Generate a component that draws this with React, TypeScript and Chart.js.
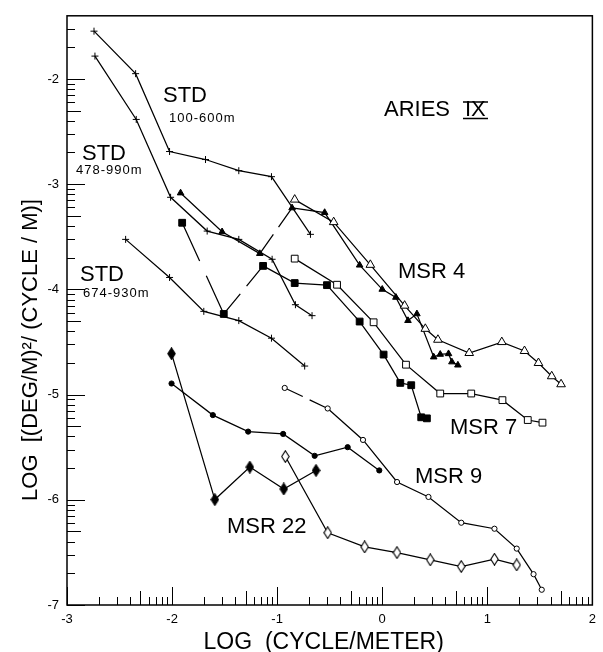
import React, { useEffect, useRef } from 'react';
import { Chart, registerables } from 'chart.js';

Chart.register(...registerables);

// ---- data (log10 wavenumber, log10 spectral level) ----
const std100X = [-2.743, -2.347, -2.024, -1.682, -1.365, -1.054, -0.683];
const std100Y = [-1.546, -1.95, -2.69, -2.766, -2.872, -2.929, -3.477];

const std478X = [-2.734, -2.341, -2.014, -1.666, -1.365, -1.048, -0.826, -0.668];
const std478Y = [-1.783, -2.385, -3.125, -3.446, -3.525, -3.714, -4.146, -4.25];

const std674X = [-2.442, -2.024, -1.698, -1.365, -1.054, -0.738];
const std674Y = [-3.525, -3.887, -4.209, -4.297, -4.464, -4.729];

const msr4FilledX = [-1.919, -1.524, -1.165, -0.858, -0.548, -0.215, 0.0, 0.13, 0.245, 0.33, 0.49, 0.552, 0.631, 0.663, 0.72];
const msr4FilledY = [-3.084, -3.453, -3.66, -3.226, -3.27, -3.77, -4.0, -4.076, -4.297, -4.233, -4.643, -4.618, -4.612, -4.69, -4.72];

const msr4OpenX = [-0.833, -0.462, -0.113, 0.213, 0.41, 0.53, 0.828, 1.138, 1.354, 1.487, 1.613, 1.702];
const msr4OpenY = [-3.147, -3.361, -3.767, -4.155, -4.375, -4.479, -4.605, -4.501, -4.586, -4.7, -4.826, -4.902];

const msr7FilledX = [-1.904, -1.508, -1.134, -0.833, -0.526, -0.215, 0.013, 0.172, 0.276, 0.371, 0.425];
const msr7FilledY = [-3.367, -4.234, -3.777, -3.94, -3.96, -4.306, -4.62, -4.889, -4.911, -5.216, -5.226];

const msr7OpenX = [-0.833, -0.43, -0.082, 0.226, 0.552, 0.847, 1.144, 1.385, 1.525];
const msr7OpenY = [-3.708, -3.956, -4.313, -4.716, -4.99, -4.99, -5.053, -5.242, -5.267];

const msr9OpenX = [-0.928, -0.519, -0.183, 0.141, 0.44, 0.752, 1.068, 1.28, 1.44, 1.518];
const msr9OpenY = [-4.937, -5.132, -5.431, -5.831, -5.973, -6.218, -6.275, -6.464, -6.707, -6.855];

const msr9FilledX = [-2.005, -1.612, -1.276, -0.943, -0.643, -0.329, -0.028];
const msr9FilledY = [-4.895, -5.195, -5.352, -5.374, -5.582, -5.5, -5.721];

const msr22FilledX = [-2.005, -1.593, -1.26, -0.937, -0.63];
const msr22FilledY = [-4.611, -5.998, -5.689, -5.897, -5.721];

const msr22OpenX = [-0.922, -0.519, -0.167, 0.14, 0.457, 0.752, 1.068, 1.28];
const msr22OpenY = [-5.589, -6.313, -6.448, -6.502, -6.571, -6.634, -6.565, -6.619];

const xTickValues = [-3, -2, -1, 0, 1, 2];
const yTickValues = [-7, -6, -5, -4, -3, -2];

const xTitle = 'LOG  (CYCLE/METER)';
const yTitle = 'LOG  [(DEG/M)\u00B2/ (CYCLE / M)]';

const FONT = "'Liberation Sans', Arial, sans-serif";

const zip = (xs: number[], ys: number[]) => xs.map((x, i) => ({ x, y: ys[i] }));

function makeDiamond(filled: boolean) {
  const c = document.createElement('canvas');
  c.width = 9;
  c.height = 13;
  const g = c.getContext('2d')!;
  g.beginPath();
  g.moveTo(4.5, 0.7);
  g.lineTo(8.2, 6.5);
  g.lineTo(4.5, 12.3);
  g.lineTo(0.8, 6.5);
  g.closePath();
  g.fillStyle = filled ? '#000' : '#fff';
  g.fill();
  g.strokeStyle = '#000';
  g.lineWidth = 1.1;
  g.stroke();
  return c;
}

const gapDash = (ctx: any) => {
  const d = Math.hypot(ctx.p1.x - ctx.p0.x, ctx.p1.y - ctx.p0.y);
  return [d * 0.42, d * 0.16, d];
};

const decorPlugin = {
  id: 'decor',
  afterDraw(chart: any) {
    const { ctx, chartArea: a, scales } = chart;
    const xs = scales.x;
    const ys = scales.y;
    ctx.save();
    ctx.strokeStyle = '#000';
    ctx.lineWidth = 1.5;
    ctx.strokeRect(a.left, a.top, a.right - a.left, a.bottom - a.top);

    ctx.lineWidth = 1;
    for (let i = -3; i <= 2; i++) {
      for (let k = 1; k <= 9; k++) {
        const v = i + Math.log10(k);
        if (v > 2.0001) continue;
        const len = k === 1 ? 18 : k === 5 ? 14 : 8;
        const px = Math.round(xs.getPixelForValue(v)) + 0.5;
        ctx.beginPath();
        ctx.moveTo(px, a.bottom);
        ctx.lineTo(px, a.bottom - len);
        ctx.stroke();
      }
    }
    for (let i = -7; i <= -2; i++) {
      for (let k = 1; k <= 9; k++) {
        const v = i + Math.log10(k);
        if (v > ys.max) continue;
        const len = k === 1 ? 18 : k === 5 ? 14 : 8;
        const py = Math.round(ys.getPixelForValue(v)) + 0.5;
        ctx.beginPath();
        ctx.moveTo(a.left, py);
        ctx.lineTo(a.left + len, py);
        ctx.stroke();
      }
    }

    ctx.fillStyle = '#000';
    ctx.textBaseline = 'middle';
    // axis titles
    ctx.textAlign = 'center';
    ctx.font = `23px ${FONT}`;
    ctx.fillText(xTitle, (a.left + a.right) / 2 - 6, 643);
    ctx.save();
    ctx.translate(31, 350);
    ctx.rotate(-Math.PI / 2);
    ctx.font = `22px ${FONT}`;
    ctx.fillText(yTitle, 0, 0);
    ctx.restore();

    // annotations
    ctx.textAlign = 'left';
    const big = (t: string, x: number, y: number) => {
      ctx.font = `22px ${FONT}`;
      (ctx as any).letterSpacing = '0px';
      ctx.fillText(t, x, y);
    };
    const small = (t: string, x: number, y: number) => {
      ctx.font = `13px ${FONT}`;
      (ctx as any).letterSpacing = '1px';
      ctx.fillText(t, x, y);
      (ctx as any).letterSpacing = '0px';
    };
    big('STD', 163, 96);
    small('100-600m', 169, 118);
    big('STD', 82, 154);
    small('478-990m', 76, 170);
    big('STD', 80, 275);
    small('674-930m', 83, 293);
    big('MSR 4', 398, 272);
    big('MSR 7', 450, 428);
    big('MSR 9', 415, 477);
    big('MSR 22', 227, 527);
    big('ARIES', 384, 110);
    big('IX', 465, 110);
    ctx.lineWidth = 1.5;
    ctx.beginPath();
    ctx.moveTo(463, 102);
    ctx.lineTo(488, 102);
    ctx.moveTo(463, 118.5);
    ctx.lineTo(488, 118.5);
    ctx.stroke();
    ctx.restore();
  },
};

export default function App() {
  const ref = useRef<HTMLCanvasElement>(null);

  useEffect(() => {
    const filledDiamond = makeDiamond(true);
    const openDiamond = makeDiamond(false);
    const line = (
      data: { x: number; y: number }[],
      style: any,
      radius: number,
      fill: string,
      gaps: number[] = []
    ) => ({
      data,
      showLine: true,
      borderColor: '#000',
      borderWidth: 1.25,
      pointStyle: style,
      pointRadius: radius,
      pointBackgroundColor: fill,
      pointBorderColor: '#000',
      pointBorderWidth: 1,
      segment: {
        borderDash: (ctx: any) => (gaps.includes(ctx.p0DataIndex) ? gapDash(ctx) : undefined),
      },
    });

    const chart = new Chart(ref.current!, {
      type: 'scatter',
      data: {
        datasets: [
          line(zip(msr4OpenX, msr4OpenY), 'triangle', 5, '#fff'),
          line(zip(msr7OpenX, msr7OpenY), 'rect', 4.8, '#fff'),
          line(zip(msr9OpenX, msr9OpenY), 'circle', 2.6, '#fff', [0]),
          line(zip(msr22OpenX, msr22OpenY), openDiamond, 5, '#fff'),
          line(zip(msr4FilledX, msr4FilledY), 'triangle', 3.8, '#000', [2]),
          line(zip(msr7FilledX, msr7FilledY), 'rect', 4.8, '#000', [0, 1]),
          line(zip(msr9FilledX, msr9FilledY), 'circle', 2.6, '#000'),
          line(zip(msr22FilledX, msr22FilledY), filledDiamond, 5, '#000'),
          line(zip(std100X, std100Y), 'cross', 3.5, '#000'),
          line(zip(std478X, std478Y), 'cross', 3.5, '#000'),
          line(zip(std674X, std674Y), 'cross', 3.5, '#000'),
        ] as any,
      },
      options: {
        responsive: false,
        animation: false,
        events: [],
        layout: { padding: { top: 13, right: 9, left: 0, bottom: 0 } },
        plugins: { legend: { display: false }, tooltip: { enabled: false } },
        scales: {
          x: {
            type: 'linear',
            min: -3,
            max: 2,
            afterBuildTicks: (s: any) => {
              s.ticks = xTickValues.map((v) => ({ value: v }));
            },
            afterFit: (s: any) => {
              s.height = 47;
            },
            grid: { display: false, drawTicks: false },
            border: { display: false },
            ticks: {
              padding: 7,
              color: '#000',
              font: { family: FONT, size: 13 },
              maxRotation: 0,
              autoSkip: false,
              callback: (v: any) => String(v),
            },
          },
          y: {
            type: 'linear',
            min: -7,
            max: -1.4,
            afterBuildTicks: (s: any) => {
              s.ticks = yTickValues.map((v) => ({ value: v }));
            },
            afterFit: (s: any) => {
              s.width = 67;
            },
            grid: { display: false, drawTicks: false },
            border: { display: false },
            ticks: {
              padding: 8,
              color: '#000',
              font: { family: FONT, size: 13 },
              autoSkip: false,
              callback: (v: any) => String(v),
            },
          },
        },
      },
      plugins: [decorPlugin],
    });
    return () => chart.destroy();
  }, []);

  return (
    <div style={{ position: 'absolute', left: 0, top: 0, width: 603, height: 652, background: '#fff' }}>
      <canvas ref={ref} width={603} height={652} style={{ display: 'block' }} />
    </div>
  );
}
